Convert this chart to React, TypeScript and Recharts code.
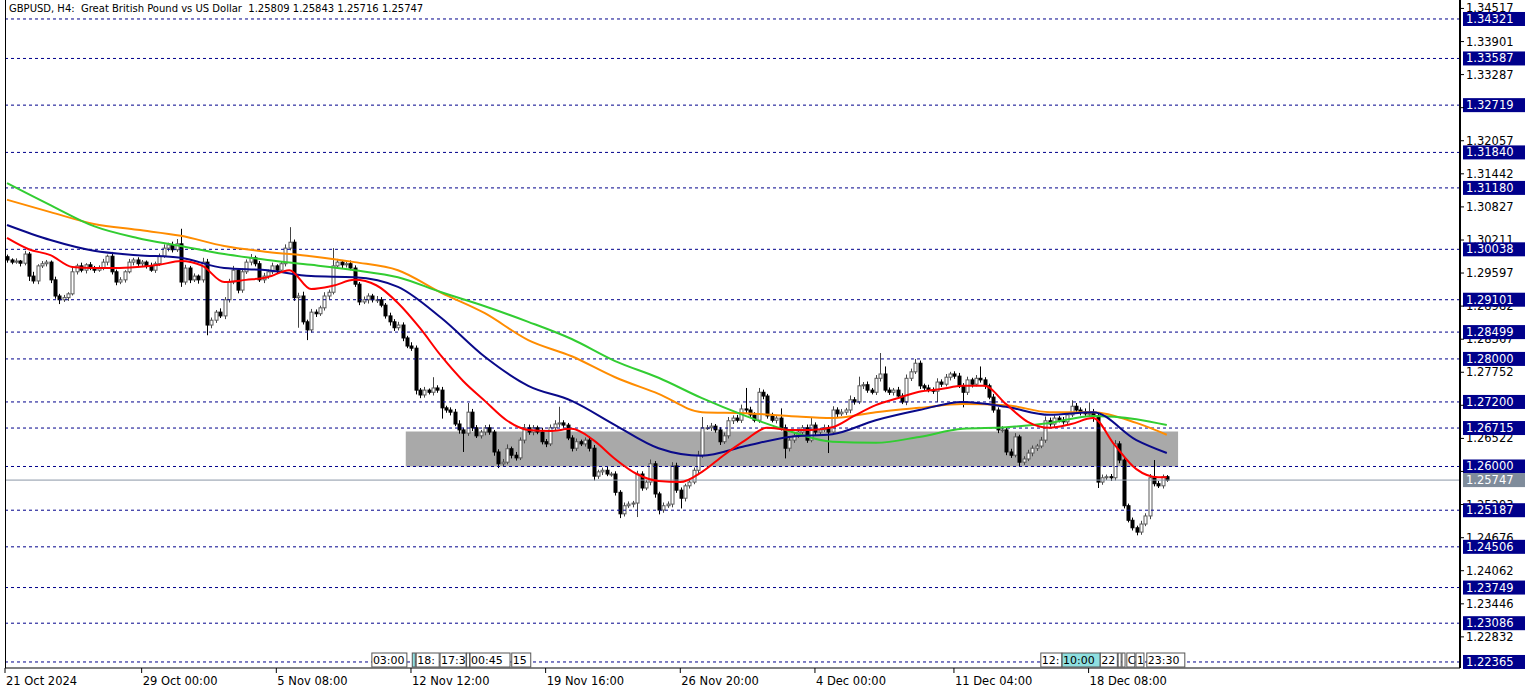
import {
  ComposedChart,
  Bar,
  Line,
  XAxis,
  YAxis,
  ReferenceLine,
  ReferenceArea,
  ReferenceDot,
} from "recharts"

// GBPUSD H4 candles, bar index 0 = 21 Oct 2024 20:00
const firstOpen = 1.299
const closes = [
  1.2984, 1.2980, 1.2982, 1.2978, 1.2995, 1.2954, 1.2945, 1.2973, 1.2977, 1.2980,
  1.2947, 1.2917, 1.2910, 1.2914, 1.2921, 1.2962, 1.2973, 1.2965, 1.2975, 1.2969,
  1.2965, 1.2969, 1.2980, 1.2991, 1.2962, 1.2943, 1.2947, 1.2962, 1.2980, 1.2984,
  1.2977, 1.2980, 1.2973, 1.2965, 1.2977, 1.2991, 1.3006, 1.3012, 1.3003, 1.3014,
  1.2943, 1.2969, 1.2947, 1.2954, 1.2947, 1.2980, 1.2863, 1.2872, 1.2887, 1.2880,
  1.2910, 1.2943, 1.2965, 1.2928, 1.2962, 1.2980, 1.2988, 1.2977, 1.2947, 1.2954,
  1.2962, 1.2973, 1.2965, 1.2977, 1.3006, 1.3017, 1.2914, 1.2917, 1.2869, 1.2854,
  1.2887, 1.2884, 1.2895, 1.2917, 1.2924, 1.2973, 1.2980, 1.2975, 1.2977, 1.2969,
  1.2939, 1.2906, 1.2910, 1.2917, 1.2910, 1.2910, 1.2900, 1.2880, 1.2869, 1.2858,
  1.2863, 1.2839, 1.2824, 1.2820, 1.2742, 1.2733, 1.2742, 1.2738, 1.2746, 1.2742,
  1.2709, 1.2705, 1.2701, 1.2679, 1.2668, 1.2662, 1.2701, 1.2672, 1.2657, 1.2664,
  1.2672, 1.2664, 1.2627, 1.2605, 1.2608, 1.2633, 1.2621, 1.2616, 1.2649, 1.2672,
  1.2664, 1.2672, 1.2664, 1.2646, 1.2642, 1.2672, 1.2679, 1.2681, 1.2677, 1.2653,
  1.2634, 1.2646, 1.2642, 1.2649, 1.2634, 1.2582, 1.2590, 1.2593, 1.2586, 1.2586,
  1.2552, 1.2512, 1.2527, 1.2530, 1.2532, 1.2586, 1.2560, 1.2571, 1.2605, 1.2549,
  1.2519, 1.2527, 1.2530, 1.2601, 1.2556, 1.2541, 1.2564, 1.2571, 1.2593, 1.2621,
  1.2672, 1.2672, 1.2675, 1.2668, 1.2646, 1.2657, 1.2685, 1.2690, 1.2686, 1.2707,
  1.2705, 1.2696, 1.2686, 1.2738, 1.2731, 1.2694, 1.2686, 1.2690, 1.2672, 1.2634,
  1.2649, 1.2657, 1.2664, 1.2672, 1.2649, 1.2677, 1.2664, 1.2668, 1.2672, 1.2664,
  1.2705, 1.2698, 1.2701, 1.2705, 1.2724, 1.2720, 1.2750, 1.2752, 1.2742, 1.2738,
  1.2764, 1.2772, 1.2742, 1.2738, 1.2742, 1.2731, 1.2720, 1.2764, 1.2776, 1.2792,
  1.2750, 1.2746, 1.2742, 1.2740, 1.2757, 1.2753, 1.2766, 1.2772, 1.2768, 1.2750,
  1.2738, 1.2761, 1.2753, 1.2764, 1.2761, 1.2750, 1.2729, 1.2705, 1.2668, 1.2668,
  1.2627, 1.2621, 1.2655, 1.2608, 1.2614, 1.2625, 1.2634, 1.2638, 1.2649, 1.2685,
  1.2679, 1.2690, 1.2686, 1.2683, 1.2696, 1.2712, 1.2705, 1.2701, 1.2698, 1.2699,
  1.2694, 1.2571, 1.2579, 1.2581, 1.2579, 1.2642, 1.2612, 1.2527, 1.2500, 1.2486,
  1.2478, 1.2493, 1.2508, 1.2579, 1.2568, 1.2564, 1.2581, 1.25747,
]
// wick lengths in pips above / below the body
const upWick = [
  4, 3, 5, 2, 6, 4, 8, 3, 5, 4, 3, 6, 4, 5, 3, 7, 4, 6, 3, 5,
  4, 5, 6, 3, 8, 4, 5, 3, 6, 4, 5, 4, 3, 6, 4, 5, 7, 4, 6, 9,
  28, 6, 4, 5, 3, 8, 6, 5, 4, 7, 5, 6, 8, 4, 6, 5, 7, 4, 5, 6,
  4, 6, 3, 5, 7, 28, 5, 6, 8, 4, 6, 5, 4, 7, 5, 33, 6, 4, 5, 6,
  5, 4, 6, 5, 4, 7, 5, 4, 6, 5, 6, 5, 4, 7, 5, 4, 6, 3, 20, 5,
  6, 4, 5, 6, 7, 4, 17, 6, 5, 4, 5, 6, 4, 5, 6, 8, 4, 6, 5, 7,
  6, 5, 4, 8, 5, 6, 7, 30, 5, 4, 5, 6, 4, 5, 7, 6, 4, 5, 6, 4,
  5, 4, 6, 5, 4, 6, 5, 4, 8, 5, 4, 6, 5, 7, 6, 5, 4, 6, 5, 8,
  20, 5, 6, 4, 5, 6, 7, 5, 6, 8, 39, 6, 5, 8, 5, 4, 6, 5, 18, 6,
  5, 6, 4, 5, 6, 15, 5, 4, 6, 5, 7, 5, 6, 4, 8, 5, 17, 5, 6, 4,
  6, 39, 14, 5, 4, 6, 5, 7, 6, 8, 5, 4, 6, 5, 7, 5, 6, 4, 5, 6,
  5, 6, 4, 6, 22, 5, 4, 6, 5, 7, 5, 6, 7, 4, 5, 6, 5, 4, 6, 8,
  6, 5, 4, 6, 5, 11, 6, 5, 7, 20, 8, 5, 6, 4, 5, 7, 5, 6, 4, 5,
  4, 6, 5, 7, 33, 5, 4, 3,
]
const downWick = [
  5, 4, 3, 6, 4, 9, 5, 6, 4, 5, 6, 5, 8, 4, 6, 3, 5, 4, 6, 4,
  5, 3, 4, 6, 5, 6, 4, 5, 3, 6, 4, 6, 5, 3, 5, 4, 3, 6, 5, 4,
  9, 5, 6, 4, 7, 5, 19, 6, 5, 4, 6, 5, 4, 6, 5, 4, 6, 5, 4, 6,
  5, 4, 6, 3, 5, 4, 6, 56, 5, 19, 5, 6, 4, 5, 6, 4, 5, 6, 5, 4,
  5, 6, 4, 7, 5, 6, 4, 5, 7, 6, 5, 6, 4, 5, 8, 6, 5, 4, 6, 5,
  20, 5, 6, 4, 7, 35, 5, 6, 4, 5, 6, 5, 7, 8, 5, 4, 6, 5, 4, 6,
  5, 6, 4, 5, 6, 4, 5, 6, 5, 4, 6, 5, 4, 5, 6, 8, 5, 6, 4, 5,
  6, 8, 5, 4, 6, 26, 5, 4, 6, 7, 8, 5, 4, 6, 5, 19, 6, 5, 4, 6,
  5, 4, 6, 5, 6, 4, 5, 6, 4, 5, 6, 5, 4, 5, 6, 5, 4, 6, 5, 19,
  6, 5, 4, 6, 5, 4, 6, 5, 4, 39, 5, 6, 4, 5, 6, 5, 4, 6, 5, 4,
  5, 6, 4, 5, 6, 5, 4, 6, 5, 4, 6, 5, 4, 5, 20, 5, 4, 6, 5, 4,
  28, 5, 6, 4, 5, 6, 4, 5, 6, 5, 6, 5, 4, 7, 5, 4, 6, 5, 4, 5,
  5, 6, 4, 5, 6, 4, 5, 6, 4, 5, 11, 11, 5, 4, 6, 5, 6, 5, 4, 5,
  6, 5, 4, 6, 5, 4, 5, 3,
]

const redIdx = [
  0, 5, 10, 15, 20, 25, 30, 35, 40, 45, 50, 55, 60, 65, 70, 75, 80, 85, 90, 95,
  100, 105, 110, 115, 120, 125, 130, 135, 140, 145, 150, 155, 160, 165, 170, 175,
  180, 185, 190, 195, 200, 205, 210, 215, 220, 225, 230, 235, 240, 245, 250, 255,
  260, 265, 267,
]
const maRed = [
  1.3025, 1.3004, 1.2993, 1.2971, 1.2969, 1.2969, 1.2971, 1.2975, 1.2982, 1.2973,
  1.2943, 1.2947, 1.2952, 1.2965, 1.2930, 1.2936, 1.2947, 1.2937, 1.2904, 1.2858,
  1.2805, 1.2759, 1.2722, 1.2686, 1.2668, 1.2666, 1.2670, 1.2649, 1.2614, 1.2586,
  1.2573, 1.2571, 1.2590, 1.2621, 1.2649, 1.2672, 1.2668, 1.2668, 1.2673, 1.2694,
  1.2714, 1.2727, 1.2739, 1.2744, 1.2750, 1.2750, 1.2716, 1.2683, 1.2672, 1.2679,
  1.2690, 1.2640, 1.2595, 1.2580, 1.2580,
]
const maIdx = [
  0, 10, 20, 30, 40, 50, 60, 70, 80, 90, 100, 110, 120, 130, 140, 150, 160, 170,
  180, 190, 200, 210, 220, 230, 240, 250, 260, 267,
]
const maNavy = [
  1.3049, 1.3021, 1.3001, 1.2993, 1.2988, 1.2969, 1.2965, 1.2954, 1.2952, 1.2934,
  1.2876, 1.2804, 1.2750, 1.2722, 1.2677, 1.2634, 1.2620, 1.2638, 1.2655, 1.2660,
  1.2686, 1.2705, 1.2720, 1.2711, 1.2696, 1.2701, 1.2649, 1.2625,
]
const maOrange = [
  1.3096, 1.3073, 1.3051, 1.3040, 1.3029, 1.3010, 1.2999, 1.2991, 1.2980, 1.2965,
  1.2923, 1.2885, 1.2835, 1.2805, 1.2766, 1.2735, 1.2701, 1.2699, 1.2694, 1.2690,
  1.2701, 1.2709, 1.2716, 1.2714, 1.2701, 1.2701, 1.2681, 1.2659,
]
const maGreen = [
  1.3127, 1.3086, 1.3047, 1.3025, 1.3010, 1.2995, 1.2984, 1.2975, 1.2965, 1.2952,
  1.2924, 1.2898, 1.2869, 1.2837, 1.2796, 1.2765, 1.2727, 1.2694, 1.2666, 1.2646,
  1.2644, 1.2655, 1.2670, 1.2673, 1.2681, 1.2694, 1.2688, 1.2677,
]

const levels = [
  1.34321, 1.33587, 1.32719, 1.3184, 1.3118, 1.30038, 1.29101, 1.28499, 1.28,
  1.272, 1.26715, 1.26, 1.25187, 1.24506, 1.23749, 1.23086, 1.22365,
]
const lastPrice = 1.25747
const zoneFrom = 91.8
const zoneTo = 269.6
const zoneLow = 1.26
const zoneHigh = 1.2665

const priceTicks = [
  1.34517, 1.33901, 1.33287, 1.32672, 1.32057, 1.31442, 1.30827, 1.30211, 1.29597,
  1.28982, 1.28367, 1.27752, 1.27138, 1.26522, 1.25908, 1.25293, 1.24676, 1.24062,
  1.23446, 1.22832,
]
const xMin = -0.46
const xMax = 334.5
const yMin = 1.22253
const yMax = 1.34674
const dateTicks = [xMin, 31, 62, 93, 124, 155, 186, 218, 249]
const dateLabels = [
  "21 Oct 2024", "29 Oct 00:00", "5 Nov 08:00", "12 Nov 12:00", "19 Nov 16:00",
  "26 Nov 20:00", "4 Dec 00:00", "11 Dec 04:00", "18 Dec 08:00",
]
const events = [
  { i: 84, w: 35, t: "03:00" }, { i: 93.3, w: 3, t: "", hot: true },
  { i: 94.2, w: 23, t: "18:" }, { i: 99.7, w: 26, t: "17:3" },
  { i: 105.8, w: 3, t: "" }, { i: 106.6, w: 40, t: "00:45" },
  { i: 116.2, w: 19, t: "15" }, { i: 238, w: 21, t: "12:" },
  { i: 242.9, w: 38, t: "10:00", hot: true }, { i: 251.7, w: 17, t: "22" },
  { i: 255.8, w: 3, t: "" }, { i: 256.7, w: 3, t: "" }, { i: 257.8, w: 8, t: "C" },
  { i: 259.9, w: 8, t: "1" }, { i: 262.4, w: 38, t: "23:30" },
]

type Row = {
  i: number; open: number; close: number; high: number; low: number
  red?: number; navy?: number; orange?: number; green?: number
}

const rows: Row[] = closes.map((c, i) => {
  const o = i === 0 ? firstOpen : closes[i - 1]
  return {
    i,
    open: o,
    close: c,
    high: Math.max(o, c) + upWick[i] / 10000,
    low: Math.min(o, c) - downWick[i] / 10000,
  }
})
redIdx.forEach((k, j) => { rows[k].red = maRed[j] })
maIdx.forEach((k, j) => {
  rows[k].navy = maNavy[j]
  rows[k].orange = maOrange[j]
  rows[k].green = maGreen[j]
})

const FONT = "'DejaVu Sans', Tahoma, sans-serif"

const Candle = (props: any) => {
  const { x, y, width, height, payload } = props
  if (!payload) return null
  const { open, close, high, low } = payload
  const top = Math.min(y, y + height)
  const bottom = Math.max(y, y + height)
  const k = high - low > 0 ? (bottom - top) / (high - low) : 0
  const cx = Math.round(x + width / 2) + 0.5
  const yO = top + (high - open) * k
  const yC = top + (high - close) * k
  const bull = close >= open
  const bTop = Math.min(yO, yC)
  const bH = Math.max(1, Math.abs(yC - yO))
  return (
    <g>
      <line x1={cx} x2={cx} y1={top} y2={bottom} stroke={bull ? "#444" : "#000"} />
      <rect
        x={cx - 1.5}
        y={bTop}
        width={3}
        height={bH}
        fill={bull ? "#fff" : "#000"}
        stroke={bull ? "#5a5a5a" : "#000"}
        strokeWidth={1}
      />
    </g>
  )
}

const PriceLabel = ({ viewBox, text }: any) => {
  if (!viewBox) return null
  return (
    <text x={viewBox.x + viewBox.width + 6} y={viewBox.y + 4} fontSize={11.5} fill="#000" fontFamily={FONT}>
      {text}
    </text>
  )
}

const DateTick = ({ x, y, payload }: any) => {
  const idx = dateTicks.indexOf(payload.value)
  return (
    <text x={x + 1} y={y + 12} fontSize={11.5} fill="#000" fontFamily={FONT}>
      {dateLabels[idx]}
    </text>
  )
}

const LevelTag = ({ viewBox, text, fill }: any) => {
  if (!viewBox) return null
  const x = viewBox.x + viewBox.width + 3
  const y = viewBox.y
  return (
    <g>
      <rect x={x} y={y - 7} width={62} height={14} fill={fill} />
      <text x={x + 3} y={y + 4} fontSize={11.5} fill="#fff" fontFamily={FONT}>
        {text}
      </text>
    </g>
  )
}

const EventTag = ({ cx, cy, w, t, hot }: any) => (
  <g>
    <rect x={cx} y={cy - 15} width={w} height={14} fill={hot ? "#8fe0e0" : "#fff"} stroke="#555" />
    <text x={cx + 1} y={cy - 4} fontSize={11} fill="#000" fontFamily={FONT}>
      {t}
    </text>
  </g>
)

const EmptyTick = () => <g />

export default function App() {
  return (
    <div style={{ position: "absolute", left: 0, top: 0, width: 1533, height: 690, background: "#fff" }}>
      <ComposedChart width={1533} height={690} data={rows} margin={{ top: 0, right: 0, bottom: 0, left: 5 }}>
        <XAxis
          type="number"
          dataKey="i"
          domain={[xMin, xMax]}
          allowDataOverflow
          ticks={dateTicks}
          interval={0}
          height={22}
          axisLine={{ stroke: "#000" }}
          tickLine={{ stroke: "#000" }}
          tickSize={5}
          tickMargin={0}
          tick={<DateTick />}
        />
        <YAxis
          orientation="right"
          domain={[yMin, yMax]}
          allowDataOverflow
          ticks={priceTicks}
          interval={0}
          width={73}
          axisLine={{ stroke: "#000", strokeWidth: 2 }}
          tickLine={{ stroke: "#000" }}
          tickSize={4}
          tickMargin={2}
          tick={<EmptyTick />}
        />
        {priceTicks.map((t) => (
          <ReferenceLine
            key={"t" + t}
            y={t}
            stroke="#000"
            strokeOpacity={0}
            label={<PriceLabel text={t.toFixed(5)} />}
          />
        ))}
        <ReferenceArea
          x1={zoneFrom}
          x2={zoneTo}
          y1={zoneLow}
          y2={zoneHigh}
          fill="#a9a9a9"
          fillOpacity={1}
          stroke="none"
          ifOverflow="visible"
        />
        {levels.map((lv) => (
          <ReferenceLine
            key={lv}
            y={lv}
            stroke="#00008b"
            strokeDasharray="3 3"
            label={<LevelTag text={lv.toFixed(5)} fill="#00008b" />}
          />
        ))}
        <ReferenceLine
          y={lastPrice}
          stroke="#8a97a6"
          label={<LevelTag text={lastPrice.toFixed(5)} fill="#7f8c9b" />}
        />
        <Bar
          dataKey={(d: Row) => [d.low, d.high]}
          barSize={3}
          shape={(p: any) => <Candle {...p} />}
          isAnimationActive={false}
        />
        <Line dataKey="orange" stroke="#ff8c00" strokeWidth={2} dot={false} connectNulls type="monotone" isAnimationActive={false} />
        <Line dataKey="green" stroke="#32cd32" strokeWidth={2} dot={false} connectNulls type="monotone" isAnimationActive={false} />
        <Line dataKey="navy" stroke="#0a0a8a" strokeWidth={2} dot={false} connectNulls type="monotone" isAnimationActive={false} />
        <Line dataKey="red" stroke="#ff0000" strokeWidth={2} dot={false} connectNulls type="monotone" isAnimationActive={false} />
        {events.map((e, n) => (
          <ReferenceDot
            key={n}
            x={e.i}
            y={yMin}
            ifOverflow="visible"
            shape={(p: any) => <EventTag {...p} w={e.w} t={e.t} hot={e.hot} />}
          />
        ))}
      </ComposedChart>
      <div style={{ position: "absolute", left: 5, top: 0, width: 1, height: 668, background: "#000" }} />
      <div
        style={{
          position: "absolute",
          left: 9,
          top: 3,
          fontFamily: FONT,
          fontSize: 10,
          color: "#000",
          whiteSpace: "pre",
          background: "#fff",
        }}
      >
        {"GBPUSD, H4:  Great British Pound vs US Dollar  1.25809 1.25843 1.25716 1.25747"}
      </div>
    </div>
  )
}
